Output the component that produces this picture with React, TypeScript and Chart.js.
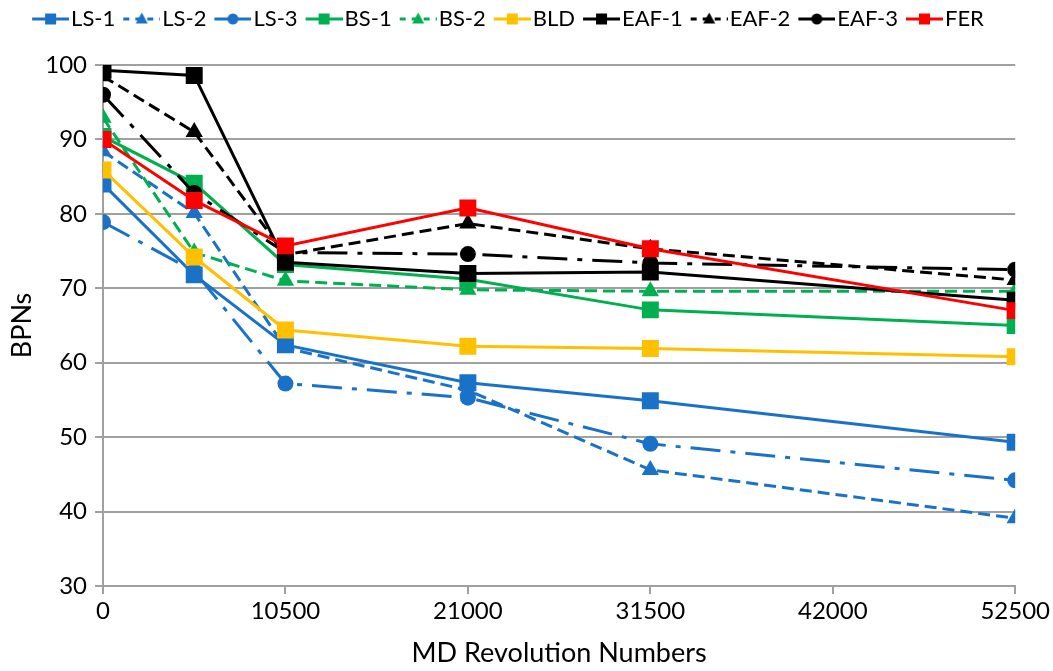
import React, { useEffect, useRef } from 'react';
import { Chart, registerables } from 'chart.js';

Chart.register(...registerables);

// ---- Data ----
const xValues = [0, 5250, 10500, 21000, 31500, 52500];
const xTickValues = [0, 10500, 21000, 31500, 42000, 52500];
const yTickValues = [30, 40, 50, 60, 70, 80, 90, 100];
const seriesNames = ['LS-1', 'LS-2', 'LS-3', 'BS-1', 'BS-2', 'BLD', 'EAF-1', 'EAF-2', 'EAF-3', 'FER'];

const ls1 = [84.0, 71.8, 62.4, 57.3, 54.9, 49.3];
const ls2 = [88.4, 80.1, 62.0, 56.3, 45.6, 39.1];
const ls3 = [78.9, 72.3, 57.2, 55.3, 49.1, 44.2];
const bs1 = [90.4, 84.1, 73.2, 71.2, 67.1, 65.0];
const bs2 = [92.9, 74.8, 71.0, 69.8, 69.6, 69.6];
const bld = [85.9, 74.2, 64.4, 62.2, 61.9, 60.8];
const eaf1 = [99.3, 98.6, 73.5, 72.0, 72.2, 68.4];
const eaf2 = [98.5, 91.0, 74.5, 78.7, 75.3, 71.1];
const eaf3 = [96.0, 82.8, 74.8, 74.6, 73.4, 72.5];
const fer = [90.0, 81.8, 75.7, 80.8, 75.3, 67.0];

const seriesValues = [ls1, ls2, ls3, bs1, bs2, bld, eaf1, eaf2, eaf3, fer];

// ---- Styles ----
const BLUE = '#1a72c8';
const GREEN = '#00b050';
const YELLOW = '#ffc000';
const BLACK = '#000000';
const RED = '#ff0000';
const GRID = '#a0a0a0';
const FONT = 'Lato, "Open Sans", sans-serif';

const DASH: number[] = [12, 6];
const DASHDOT: number[] = [30, 10, 5, 10];

const styles = [
  { color: BLUE, dash: [] as number[], point: 'rect', r: 12 },
  { color: BLUE, dash: DASH, point: 'triangle', r: 10 },
  { color: BLUE, dash: DASHDOT, point: 'circle', r: 8 },
  { color: GREEN, dash: [] as number[], point: 'rect', r: 12 },
  { color: GREEN, dash: DASH, point: 'triangle', r: 10 },
  { color: YELLOW, dash: [] as number[], point: 'rect', r: 12 },
  { color: BLACK, dash: [] as number[], point: 'rect', r: 12 },
  { color: BLACK, dash: DASH, point: 'triangle', r: 10 },
  { color: BLACK, dash: DASHDOT, point: 'circle', r: 8 },
  { color: RED, dash: [] as number[], point: 'rect', r: 12 },
];

const LEGEND_IMG_W = 46;
const LEGEND_BOX_W = 28;

function makeLegendImage(st: typeof styles[number]): HTMLCanvasElement {
  const c = document.createElement('canvas');
  c.width = LEGEND_IMG_W;
  c.height = 22;
  const ctx = c.getContext('2d')!;
  const x0 = LEGEND_IMG_W - 37;
  const x1 = LEGEND_IMG_W;
  const cy = 11;
  ctx.strokeStyle = st.color;
  ctx.lineWidth = 3;
  ctx.setLineDash(st.dash === DASHDOT ? [] : st.dash.length ? [6, 6] : []);
  ctx.beginPath();
  ctx.moveTo(x0, cy);
  ctx.lineTo(x1, cy);
  ctx.stroke();
  ctx.setLineDash([]);
  const mx = (x0 + x1) / 2;
  ctx.fillStyle = st.color;
  ctx.beginPath();
  if (st.point === 'rect') {
    ctx.rect(mx - 5.5, cy - 5.5, 11, 11);
  } else if (st.point === 'triangle') {
    ctx.moveTo(mx, cy - 6.5);
    ctx.lineTo(mx + 6, cy + 4.5);
    ctx.lineTo(mx - 6, cy + 4.5);
    ctx.closePath();
  } else {
    ctx.arc(mx, cy, 5.5, 0, Math.PI * 2);
  }
  ctx.fill();
  return c;
}

export default function App() {
  const ref = useRef<HTMLCanvasElement | null>(null);

  useEffect(() => {
    document.body.style.margin = '0';
    const canvas = ref.current;
    if (!canvas) return;
    const legendImgs = styles.map(makeLegendImage);

    const datasets = seriesNames.map((name, i) => ({
      label: name,
      data: xValues.map((x, j) => ({ x, y: seriesValues[i][j] })),
      borderColor: styles[i].color,
      backgroundColor: styles[i].color,
      borderWidth: 3,
      borderDash: styles[i].dash,
      pointStyle: styles[i].point,
      pointRadius: styles[i].r,
      pointBorderWidth: 0,
      pointBackgroundColor: styles[i].color,
      tension: 0,
      fill: false,
      order: seriesNames.length - 1 - i,
    }));

    const legendHeightPlugin = {
      id: 'legendHeightFix',
      beforeLayout(chart: any) {
        const lg = chart.legend;
        if (lg && !lg._fixed) {
          const orig = lg.fit.bind(lg);
          lg.fit = function () {
            orig();
            this.height = 65;
          };
          lg._fixed = true;
        }
      },
    };

    const chart = new Chart(canvas, {
      type: 'line',
      data: { datasets: datasets as any },
      plugins: [legendHeightPlugin],
      options: {
        responsive: false,
        animation: false,
        layout: { padding: { left: 0, right: 37, top: 0, bottom: 0 } },
        plugins: {
          tooltip: { enabled: false },
          legend: {
            display: true,
            position: 'top',
            labels: {
              usePointStyle: true,
              pointStyleWidth: LEGEND_BOX_W,
              boxHeight: 20,
              padding: 8,
              color: '#000',
              font: { family: FONT, size: 22 },
              generateLabels: () =>
                seriesNames.map((name, i) => ({
                  text: name,
                  pointStyle: legendImgs[i] as any,
                  fillStyle: 'transparent',
                  strokeStyle: 'transparent',
                  lineWidth: 0,
                  hidden: false,
                  datasetIndex: i,
                  fontColor: '#000',
                })),
            },
          },
        },
        scales: {
          x: {
            type: 'linear',
            min: 0,
            max: 52500,
            afterBuildTicks: (s: any) => {
              s.ticks = xTickValues.map((v) => ({ value: v }));
            },
            afterFit: (s: any) => {
              s.height = 85;
            },
            ticks: {
              autoSkip: false,
              maxRotation: 0,
              color: '#000',
              padding: 3,
              font: { family: FONT, size: 24 },
              callback: (v: any) => String(v),
            },
            grid: {
              drawOnChartArea: false,
              drawTicks: true,
              tickLength: 8,
              color: GRID,
              lineWidth: 2,
            },
            border: { display: true, color: GRID, width: 2 },
            title: {
              display: true,
              text: 'MD Revolution Numbers',
              color: '#000',
              font: { family: FONT, size: 27 },
              padding: { top: 0, bottom: 2 },
            },
          },
          y: {
            type: 'linear',
            min: 30,
            max: 100,
            afterBuildTicks: (s: any) => {
              s.ticks = yTickValues.map((v) => ({ value: v }));
            },
            afterFit: (s: any) => {
              s.width = 103;
            },
            ticks: {
              color: '#000',
              padding: 8,
              font: { family: FONT, size: 24 },
            },
            grid: {
              color: GRID,
              lineWidth: 2,
              tickLength: 8,
              drawTicks: true,
            },
            border: { display: true, color: GRID, width: 2 },
            title: {
              display: true,
              text: 'BPNs',
              color: '#000',
              font: { family: FONT, size: 27 },
              padding: { top: 6, bottom: 0 },
            },
          },
        },
      },
    });

    return () => chart.destroy();
  }, []);

  return (
    <div style={{ width: 1053, height: 671 }}>
      <canvas ref={ref} width={1053} height={671} style={{ display: 'block' }} />
    </div>
  );
}
